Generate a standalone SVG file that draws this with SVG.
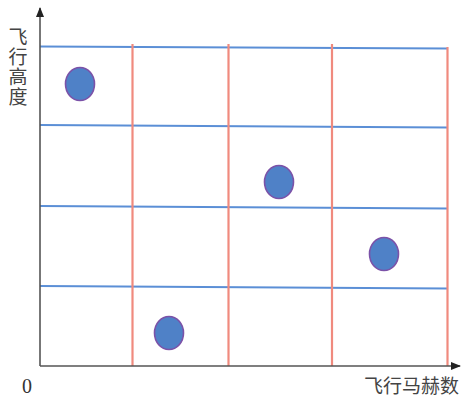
<svg xmlns="http://www.w3.org/2000/svg" width="465" height="398" viewBox="0 0 465 398">
<style>
.ax{stroke:#555;stroke-width:1.6;fill:none}
.h{stroke:#5b8fd6;stroke-width:2.2}
.v{stroke:#f08a7e;stroke-width:2.2}
.pt{fill:#4f81c7;stroke:#7b52a8;stroke-width:1.6}
.lbl{font-family:"Noto Sans CJK SC","Noto Sans",sans-serif;font-size:19px;fill:#444}
</style>
<defs>
<marker id="arr" markerWidth="10" markerHeight="10" refX="9" refY="5" orient="auto" markerUnits="userSpaceOnUse">
<path d="M0,1 L10,5 L0,9 Z" fill="#222"/>
</marker>
</defs>
<g id="grid">
<line class="h" x1="40" y1="46.5" x2="447" y2="48.5"/>
<line class="h" x1="40" y1="125" x2="447" y2="127.5"/>
<line class="h" x1="40" y1="206" x2="447" y2="208.5"/>
<line class="h" x1="40" y1="286" x2="447" y2="288.5"/>
<line class="v" x1="132.5" y1="44" x2="132.5" y2="366"/>
<line class="v" x1="228.5" y1="44" x2="228.5" y2="366"/>
<line class="v" x1="332" y1="44" x2="332" y2="366"/>
<line class="v" x1="447.5" y1="47" x2="447.5" y2="366"/>
</g>
<g id="axes">
<line class="ax" x1="40" y1="366" x2="40" y2="8" marker-end="url(#arr)"/>
<line class="ax" x1="40" y1="366" x2="460" y2="366" marker-end="url(#arr)"/>
</g>
<g id="p1"><ellipse class="pt" cx="80" cy="84" rx="14.5" ry="16.5"/></g>
<g id="p2"><ellipse class="pt" cx="279" cy="182" rx="14.5" ry="16.5"/></g>
<g id="p3"><ellipse class="pt" cx="384" cy="254" rx="14.5" ry="16.5"/></g>
<g id="p4"><ellipse class="pt" cx="169" cy="333" rx="14.5" ry="16.5"/></g>
<g id="ylabel">
<text class="lbl" x="18" y="27" writing-mode="vertical-rl" letter-spacing="1">飞行高度</text>
</g>
<g id="xlabel"><text class="lbl" x="459" y="393" text-anchor="end">飞行马赫数</text></g>
<g id="origin"><text x="27" y="393" text-anchor="middle" font-family="Liberation Serif, serif" font-size="20" fill="#333">0</text></g>
</svg>
